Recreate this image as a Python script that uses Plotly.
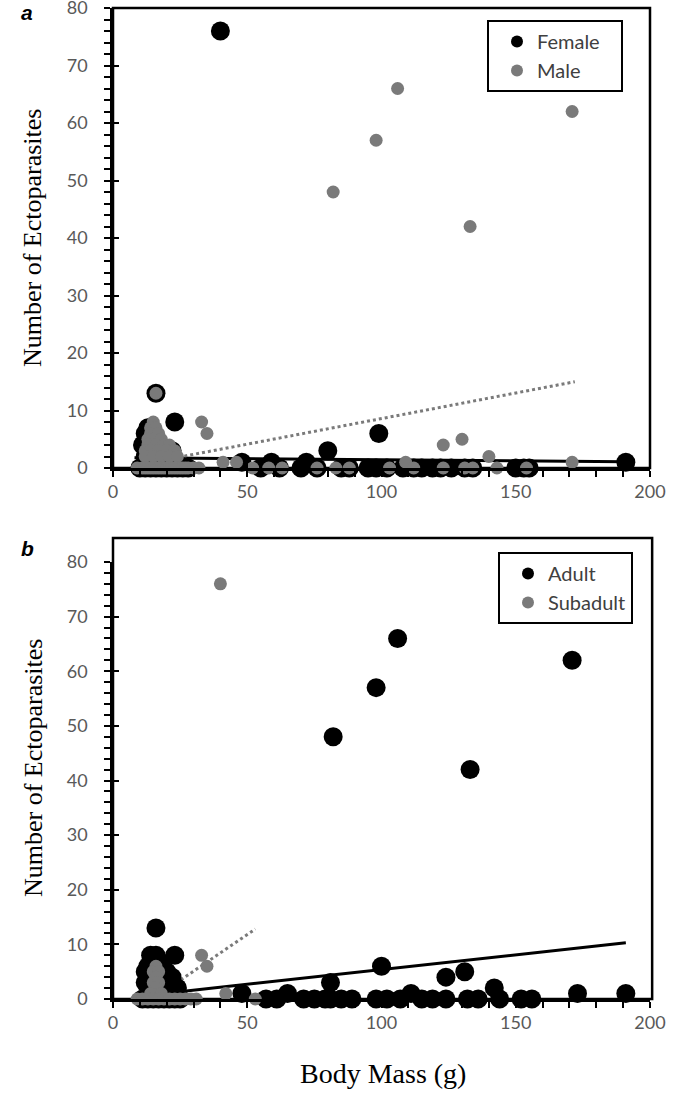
import plotly.graph_objects as go

# ---------------- data ----------------
# Panel a: by sex
female_x = [40, 16, 23, 99, 80, 191,
            13, 12, 14, 11, 15, 16, 13, 14, 17, 12, 18, 19, 20, 22, 13, 15, 21, 23, 17,
            10, 12, 14, 16, 18, 20, 22, 24, 26, 28,
            48, 55, 59, 62, 70, 72, 76, 85, 88, 95, 98, 102, 108, 112, 115, 119,
            122, 126, 131, 134, 150, 153, 155]
female_y = [76, 13, 8, 6, 3, 1,
            7, 6, 6, 4, 5, 5, 3, 4, 4, 2, 3, 2, 2, 3, 1, 1, 1, 1, 1,
            0, 0, 0, 0, 0, 0, 0, 0, 0, 0,
            1, 0, 1, 0, 0, 1, 0, 0, 0, 0, 0, 0, 0, 0, 0, 0,
            0, 0, 0, 0, 0, 0, 0]

male_x = [82, 98, 106, 133, 171, 16, 33, 35, 123, 130, 140, 171,
          15, 14, 16, 14, 17, 13, 15, 18, 13, 16, 19, 21, 12, 14, 17, 20, 23, 12, 15, 18, 21, 24,
          9, 11, 12, 13, 14, 15, 16, 17, 18, 19, 20, 21, 22, 23, 24, 25, 26, 27, 28, 30, 32,
          41, 46, 52, 58, 63, 76, 83, 88, 103, 109, 112, 123, 131, 134, 143, 154]
male_y = [48, 57, 66, 42, 62, 13, 8, 6, 4, 5, 2, 1,
          8, 7, 7, 6, 6, 5, 5, 5, 4, 4, 4, 4, 3, 3, 3, 3, 3, 2, 2, 2, 2, 2,
          0, 0, 0, 0, 0, 0, 0, 0, 0, 0, 0, 0, 0, 0, 0, 0, 0, 0, 0, 0, 0,
          1, 1, 0, 0, 0, 0, 0, 0, 0, 1, 0, 0, 0, 0, 0, 0]

# Panel b: by age
adult_x = [82, 98, 106, 133, 171, 16, 23, 100, 81, 124, 131, 142, 173, 191,
           14, 16, 15, 13, 17, 14, 18, 12, 16, 20, 13, 19, 22, 12, 15, 21, 24, 14, 18, 23,
           11, 13, 15, 17, 19, 21, 23, 25,
           48, 57, 61, 65, 71, 75, 79, 81, 85, 89, 98, 102, 107, 111, 115, 119,
           124, 132, 136, 144, 152, 156]
adult_y = [48, 57, 66, 42, 62, 13, 8, 6, 3, 4, 5, 2, 1, 1,
           8, 8, 7, 6, 7, 6, 6, 5, 5, 5, 4, 4, 4, 3, 3, 3, 2, 2, 2, 1,
           0, 0, 0, 0, 0, 0, 0, 0,
           1, 0, 0, 1, 0, 0, 0, 0, 0, 0, 0, 0, 0, 1, 0, 0,
           0, 0, 0, 0, 0, 0]

subadult_x = [40, 33, 35, 16, 15, 17, 16, 15, 17, 16, 14, 18,
              9, 11, 13, 15, 17, 19, 21, 23, 25, 27, 29, 31, 42, 53]
subadult_y = [76, 8, 6, 6, 5, 5, 4, 3, 3, 2, 1, 1,
              0, 0, 0, 0, 0, 0, 0, 0, 0, 0, 0, 0, 1, 0]

# Linear trendlines (end points)
female_trend_x = [8, 191]
female_trend_y = [1.8, 1.1]
male_trend_x = [9, 172]
male_trend_y = [0.5, 15.0]
adult_trend_x = [13, 191]
adult_trend_y = [0.7, 10.3]
subadult_trend_x = [16, 53]
subadult_trend_y = [0.4, 12.8]

x_ticks = [0, 50, 100, 150, 200]
y_ticks = [0, 10, 20, 30, 40, 50, 60, 70, 80]

# ---------------- style ----------------
W, H = 685, 1096
BLACK = "#000000"
GRAY = "#7a7a7a"
TICKFONT = dict(family="Lato, Open Sans, sans-serif", size=18, color="#595959")
SERIF = "Liberation Serif, Times New Roman, serif"
NB = "\u00a0"

def px_x(p):
    return p / W

def px_y(p):
    return 1 - p / H

fig = go.Figure()

def add_panel(xa, ya, lg, s1, s2):
    (n1, x1, y1, tx1, ty1, c1, sz1) = s1
    (n2, x2, y2, tx2, ty2, c2, sz2) = s2
    fig.add_trace(go.Scatter(x=tx1, y=ty1, mode="lines", line=dict(color=BLACK, width=3),
                             showlegend=False, xaxis=xa, yaxis=ya, hoverinfo="skip"))
    fig.add_trace(go.Scatter(x=tx2, y=ty2, mode="lines", line=dict(color=GRAY, width=3, dash="dot"),
                             showlegend=False, xaxis=xa, yaxis=ya, hoverinfo="skip"))
    fig.add_trace(go.Scatter(x=x1, y=y1, mode="markers", name=n1, legend=lg,
                             marker=dict(color=c1, size=sz1, line=dict(width=0)),
                             cliponaxis=False, xaxis=xa, yaxis=ya))
    fig.add_trace(go.Scatter(x=x2, y=y2, mode="markers", name=n2, legend=lg,
                             marker=dict(color=c2, size=sz2, line=dict(width=0)),
                             cliponaxis=False, xaxis=xa, yaxis=ya))

add_panel("x", "y", "legend",
          ("Female" + NB * 3, female_x, female_y, female_trend_x, female_trend_y, BLACK, 19),
          ("Male", male_x, male_y, male_trend_x, male_trend_y, GRAY, 13))
add_panel("x2", "y2", "legend2",
          ("Adult", adult_x, adult_y, adult_trend_x, adult_trend_y, BLACK, 19),
          ("Subadult", subadult_x, subadult_y, subadult_trend_x, subadult_trend_y, GRAY, 13))

# dummy traces so the overlay axes (inner half of major ticks) are drawn
for xa, ya in [("x3", "y3"), ("x4", "y4")]:
    fig.add_trace(go.Scatter(x=[None], y=[None], xaxis=xa, yaxis=ya, showlegend=False))

xdom = [px_x(113), px_x(650)]
ydom_a = [px_y(468), px_y(8)]
ydom_b = [px_y(999), px_y(562)]

def xaxis_main(anchor):
    return dict(domain=xdom, range=[0, 200], anchor=anchor, tickvals=x_ticks, automargin=False,
                showgrid=False, zeroline=False, showline=True, linecolor=BLACK, linewidth=2.5,
                ticks="outside", ticklen=6, tickwidth=2, tickcolor=BLACK,
                minor=dict(dtick=10, ticks="outside", ticklen=6, tickwidth=2, tickcolor=BLACK),
                tickfont=TICKFONT, ticklabelstandoff=0, ticklabeloverflow="allow")

def yaxis_main(dom, anchor):
    return dict(domain=dom, range=[0, 80], anchor=anchor, tickvals=y_ticks, automargin=False,
                showgrid=False, zeroline=False, showline=True, linecolor=BLACK, linewidth=2.5,
                ticks="outside", ticklen=6, tickwidth=2, tickcolor=BLACK,
                minor=dict(dtick=2, ticks="outside", ticklen=6, tickwidth=2, tickcolor=BLACK),
                tickfont=TICKFONT, ticklabelstandoff=13, ticklabeloverflow="allow")

def xaxis_inner(over, anchor):
    return dict(domain=xdom, range=[0, 200], overlaying=over, anchor=anchor, tickvals=x_ticks,
                automargin=False, showgrid=False, zeroline=False, showline=False,
                showticklabels=False, ticks="inside", ticklen=6, tickwidth=2, tickcolor=BLACK)

def yaxis_inner(dom, over, anchor):
    return dict(domain=dom, range=[0, 80], overlaying=over, anchor=anchor, tickvals=y_ticks,
                automargin=False, showgrid=False, zeroline=False, showline=False,
                showticklabels=False, ticks="inside", ticklen=6, tickwidth=2, tickcolor=BLACK)

legend_style = dict(bgcolor="white", bordercolor=BLACK, borderwidth=2,
                    font=dict(family="Lato, Open Sans, sans-serif", size=20, color="#404040"),
                    itemsizing="constant", xanchor="right", yanchor="top",
                    tracegroupgap=0, indentation=8)

fig.update_layout(
    width=W, height=H, margin=dict(l=0, r=0, t=0, b=0, autoexpand=False),
    paper_bgcolor="white", plot_bgcolor="white",
    xaxis=xaxis_main("y"), yaxis=yaxis_main(ydom_a, "x"),
    xaxis2=xaxis_main("y2"), yaxis2=yaxis_main(ydom_b, "x2"),
    xaxis3=xaxis_inner("x", "y3"), yaxis3=yaxis_inner(ydom_a, "y", "x3"),
    xaxis4=xaxis_inner("x2", "y4"), yaxis4=yaxis_inner(ydom_b, "y2", "x4"),
    legend=dict(legend_style, x=px_x(623), y=px_y(20)),
    legend2=dict(legend_style, x=px_x(633), y=px_y(552)),
    showlegend=True,
)

# frames
fig.add_shape(type="rect", xref="x domain", yref="y domain", x0=0, x1=1, y0=0, y1=1,
              line=dict(color=BLACK, width=2.5), layer="below")
fig.add_shape(type="rect", xref="x2 domain", yref="paper", x0=0, x1=1.004,
              y0=px_y(999), y1=px_y(538), line=dict(color=BLACK, width=2.5), layer="below")

# texts
ann = dict(xref="paper", yref="paper", showarrow=False, xanchor="center", yanchor="middle")
fig.add_annotation(text="Number of Ectoparasites", x=px_x(33), y=px_y(238), textangle=-90,
                   font=dict(family=SERIF, size=26, color=BLACK), **ann)
fig.add_annotation(text="Number of Ectoparasites", x=px_x(33), y=px_y(768), textangle=-90,
                   font=dict(family=SERIF, size=26, color=BLACK), **ann)
fig.add_annotation(text="Body Mass (g)", x=px_x(383), y=px_y(1073),
                   font=dict(family=SERIF, size=28, color=BLACK), **ann)
fig.add_annotation(text="<b><i>a</i></b>", x=px_x(27), y=px_y(13),
                   font=dict(family="Liberation Sans, Arial, sans-serif", size=21, color=BLACK), **ann)
fig.add_annotation(text="<b><i>b</i></b>", x=px_x(27), y=px_y(548),
                   font=dict(family="Liberation Sans, Arial, sans-serif", size=21, color=BLACK), **ann)

# remove the browser's default 8px body margin so the figure fills the window exactly
fig.write_html("out.html", config={"displayModeBar": False},
               post_script="document.body.style.margin='0px';")
